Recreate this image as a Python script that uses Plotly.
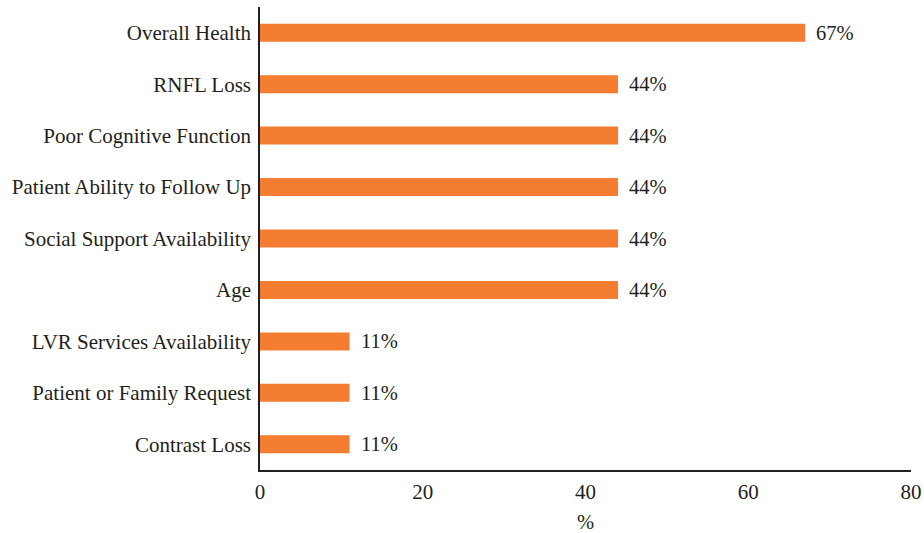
import plotly.graph_objects as go

categories = ["Overall Health", "RNFL Loss", "Poor Cognitive Function",
              "Patient Ability to Follow Up", "Social Support Availability", "Age",
              "LVR Services Availability", "Patient or Family Request", "Contrast Loss"]
values = [67, 44, 44, 44, 44, 44, 11, 11, 11]
labels = ["67%", "44%", "44%", "44%", "44%", "44%", "11%", "11%", "11%"]
x_ticks = [0, 20, 40, 60, 80]

FONT = "Liberation Serif"
TXT = "#231F20"
BAR = "#F47D31"
FS = 21

fig = go.Figure()
fig.add_trace(go.Bar(
    x=values, y=categories, orientation="h",
    marker=dict(color=BAR, line=dict(width=0)),
    hoverinfo="skip",
))

for c, v, t in zip(categories, values, labels):
    fig.add_annotation(x=v, y=c, text=t, showarrow=False, xanchor="left",
                       xshift=9, font=dict(family=FONT, size=FS - 0.5, color=TXT))

fig.update_layout(
    width=924, height=533,
    margin=dict(l=260, r=13, t=7, b=63),
    paper_bgcolor="white", plot_bgcolor="white",
    bargap=0.65, showlegend=False,
    font=dict(family=FONT, size=FS, color=TXT),
)
fig.update_xaxes(
    range=[0, 80], tickvals=x_ticks, showgrid=False, zeroline=False,
    showline=True, linecolor=TXT, linewidth=1.5, ticks="",
    ticklabelstandoff=2, automargin=False,
    title=dict(text="%", standoff=16, font=dict(family=FONT, size=FS - 0.5, color=TXT)),
)
fig.update_yaxes(
    categoryorder="array", categoryarray=categories[::-1],
    showgrid=False, zeroline=False, showline=True, linecolor=TXT, linewidth=1.5,
    ticks="", ticklabelstandoff=3, automargin=False,
)

fig.write_html("out.html", config={"displayModeBar": False},
               post_script="document.body.style.margin='0';document.body.style.overflow='hidden';")
